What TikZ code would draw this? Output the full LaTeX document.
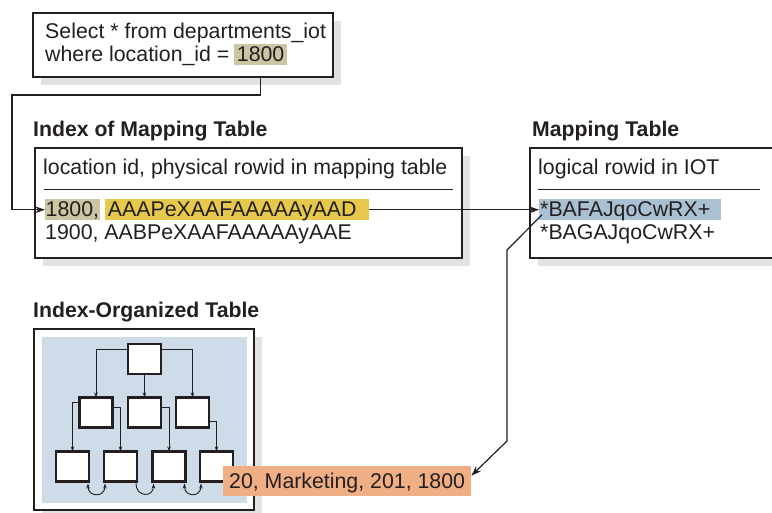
\documentclass[tikz,border=0pt]{standalone}
\usepackage{fontspec}
\setmainfont{Liberation Sans}
\usetikzlibrary{positioning,arrows.meta,calc,shadows}

\definecolor{ink}{RGB}{35,31,32}
\definecolor{shadegray}{RGB}{226,226,226}
\definecolor{tanhl}{RGB}{203,197,163}
\definecolor{yellowhl}{RGB}{230,200,76}
\definecolor{bluehl}{RGB}{170,193,211}
\definecolor{iotblue}{RGB}{206,219,232}
\definecolor{orangehl}{RGB}{239,174,132}

\tikzset{
  bigtip/.tip={Stealth[length=10bp,width=7bp]},
  treetip/.tip={Stealth[length=5bp,width=3.5bp]},
  panel/.style={draw=ink, line width=2.6bp, fill=white, anchor=north west,
    inner sep=0pt, outer sep=0pt,
    drop shadow={shadow xshift=8bp, shadow yshift=-8bp, fill=shadegray, opacity=1}},
  txt/.style={anchor=base west, inner sep=0pt, text=ink},
  ttl/.style={txt, font=\fontsize{21.3}{25}\selectfont\bfseries},
  hl/.style={txt, inner xsep=2bp, inner ysep=3bp, text height=15bp, text depth=0.5bp},
  sepline/.style={draw=ink, line width=1bp},
  conn/.style={draw=ink, line width=1.2bp, -bigtip},
  tbox/.style={draw=ink, line width=2.2bp, fill=white, minimum width=33bp,
    minimum height=30bp, inner sep=0pt, outer sep=0pt},
  tarrow/.style={draw=ink, line width=0.9bp, -treetip},
  tarrowboth/.style={draw=ink, line width=0.9bp, treetip-treetip}
}

\begin{document}
\begin{tikzpicture}[x=1bp, y=-1bp, font=\fontsize{21.4}{25}\selectfont]
\clip (0,0) rectangle (772,513);

% Query
\node [panel, minimum width=300bp, minimum height=64bp] (query) at (33,13) {};
\node [txt] (qline1) at (45,39) {Select * from departments\_iot};
\node [txt] (qline2) at (45,62) {where location\_id =};
\node [hl, fill=tanhl, inner xsep=3bp, anchor=base west] (q1800) at ([xshift=4bp]qline2.base east) {1800};

% Index of Mapping Table
\node [ttl] (ititle) at (33,137) {Index of Mapping Table};
\node [panel, minimum width=427bp, minimum height=110bp] (ipanel) at (35,148) {};
\node [txt] (ihead) at (43,175) {location id, physical rowid in mapping table};
\draw [sepline] ($(ipanel.north west)+(9,42)$) -- ($(ipanel.north east)+(-9,42)$);
\node [hl, fill=tanhl, inner xsep=0.5bp] (i1800) at (45,217) {1800,};
\node [hl, fill=yellowhl, inner xsep=3bp, text width=258bp, anchor=base west] (irowid) at ([xshift=5bp]i1800.base east) {AAAPeXAAFAAAAAyAAD};
\node [txt] (irow2) at (45,240) {1900, AABPeXAAFAAAAAyAAE};

% Mapping Table
\node [ttl] (mtitle) at (532,137) {Mapping Table};
\node [panel, minimum width=280bp, minimum height=110bp] (mpanel) at (530,148) {};
\node [txt] (mhead) at (538,175) {logical rowid in IOT};
\draw [sepline] ($(mpanel.north west)+(8,42)$) -- ++(222,0);
\node [hl, fill=bluehl, text width=180bp, inner xsep=1bp] (mrow1) at (539,217) {*BAFAJqoCwRX+};
\node [txt] (mrow2) at (540,240) {*BAGAJqoCwRX+};

% Index-Organized Table
\node [ttl] (otitle) at (33,317) {Index-Organized Table};
\node [panel, minimum width=220bp, minimum height=181bp] (opanel) at (34,329) {};
\fill [iotblue] ($(opanel.north west)+(8,8)$) rectangle ($(opanel.south east)+(-7,-7)$);

% tree
\node [tbox] (root) at (144.5,359) {};
\foreach \n/\x in {m1/96, m2/144.5, m3/192.5}
  \node [tbox] (\n) at (\x,412.5) {};
\foreach \n/\x in {l1/72.5, l2/120.5, l3/169, l4/216.5}
  \node [tbox] (\n) at (\x,466.5) {};
\draw [tarrow] ([yshift=10bp]root.west) -| (m1.north);
\draw [tarrow] (root.south) -- (m2.north);
\draw [tarrow] ([yshift=10bp]root.east) -| (m3.north);
\draw [tarrow] ([yshift=10bp]m1.west) -| (l1.north);
\draw [tarrow] ([yshift=5bp]m1.east) -| (l2.north);
\draw [tarrow] ([yshift=5bp]m2.east) -| (l3.north);
\draw [tarrow] ([yshift=-9bp]m3.east) -| (l4.north);

% leaf chain
\foreach \a/\b/\tip in {l1/l2/tarrowboth, l2/l3/tarrow, l3/l4/tarrowboth}
  \draw [\tip] ([xshift=-1bp,yshift=-2bp]\a.south east)
    .. controls ([xshift=-1bp,yshift=-16bp]\a.south east) and ([xshift=1bp,yshift=-16bp]\b.south west)
    .. ([xshift=1bp,yshift=-2bp]\b.south west);

% row
\node [hl, fill=orangehl, inner xsep=6bp, inner ysep=7bp] (orange) at (223,488) {20, Marketing, 201, 1800};

% connectors
\coordinate (qbend) at (12,95);
\coordinate (dtop) at (507,250);
\coordinate (dbot) at (507,441);
\draw [conn] (q1800.south |- query.south) |- (qbend) |- (i1800.west);
\draw [conn] (irowid.east) -- (mrow1.west);
\draw [conn] ([xshift=3bp,yshift=-5bp]mrow1.west) -- (dtop) -- (dbot) -- ([yshift=5bp]orange.east);
\end{tikzpicture}
\end{document}
